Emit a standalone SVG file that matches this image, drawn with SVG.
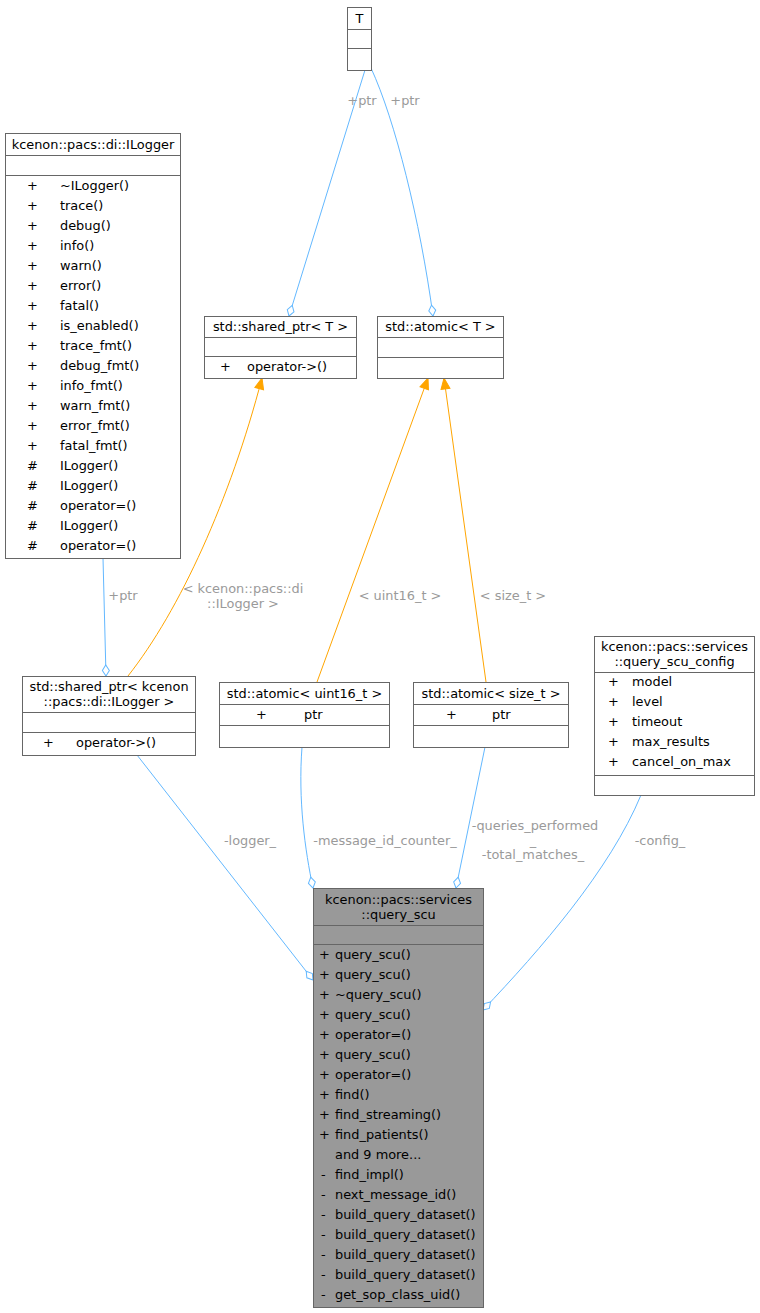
<svg xmlns="http://www.w3.org/2000/svg" width="760" height="1313" viewBox="0 0 760 1313">
<style>
text{font-family:"DejaVu Sans",sans-serif;font-size:12.9px;fill:#000}
.lbl{fill:#9a9a9a;text-anchor:middle}
.c{text-anchor:middle}
.box{fill:#fff;stroke:#666;stroke-width:1}
.gbox{fill:#999;stroke:#666;stroke-width:1}
.sep{stroke:#666;stroke-width:1}
.b{fill:none;stroke:#63b8ff;stroke-width:1}
.o{fill:none;stroke:#ffa500;stroke-width:1}
</style>
<defs>
<marker id="dia" markerUnits="userSpaceOnUse" markerWidth="14" markerHeight="10" viewBox="-12 -5 14 10" refX="0" refY="0" orient="auto"><path d="M0,0 L-5.5,-3.5 L-11,0 L-5.5,3.5 Z" fill="#fff" stroke="#63b8ff"/></marker>
<marker id="arr" markerUnits="userSpaceOnUse" markerWidth="14" markerHeight="12" viewBox="-12 -6 14 12" refX="0" refY="0" orient="auto"><path d="M0,0 L-11,-4.5 L-11,4.5 Z" fill="#ffa500" stroke="#ffa500"/></marker>
</defs>
<g id="edges">
<path class="b" d="M365,70 L289,316" marker-end="url(#dia)"/>
<text class="lbl" x="362" y="105">+ptr</text>
<path class="b" d="M371,68 C395,120 420,220 433,316" marker-end="url(#dia)"/>
<text class="lbl" x="405" y="105">+ptr</text>
<path class="o" d="M128,676 C180,610 230,500 262,378" marker-end="url(#arr)"/>
<text class="lbl" x="243" y="593">&lt; kcenon::pacs::di</text>
<text class="lbl" x="243" y="608">::ILogger &gt;</text>
<path class="b" d="M103,558 L106,676" marker-end="url(#dia)"/>
<text class="lbl" x="123" y="600">+ptr</text>
<path class="o" d="M317,682 L428,378" marker-end="url(#arr)"/>
<text class="lbl" x="400" y="600">&lt; uint16_t &gt;</text>
<path class="o" d="M486,682 L444,378" marker-end="url(#arr)"/>
<text class="lbl" x="513" y="600">&lt; size_t &gt;</text>
<path class="b" d="M137,755 L313,980" marker-end="url(#dia)"/>
<text class="lbl" x="250" y="845">-logger_</text>
<path class="b" d="M302,747 C298,800 305,850 313,888" marker-end="url(#dia)"/>
<text class="lbl" x="385" y="845">-message_id_counter_</text>
<path class="b" d="M485,747 L456,888" marker-end="url(#dia)"/>
<text class="lbl" x="535" y="830">-queries_performed</text>
<text class="lbl" x="533" y="845">_</text>
<text class="lbl" x="533" y="859">-total_matches_</text>
<path class="b" d="M641,795 C610,870 540,950 483,1010" marker-end="url(#dia)"/>
<text class="lbl" x="660" y="845">-config_</text>
</g>
<g id="T">
<rect class="box" x="347.5" y="7.5" width="24" height="63"/>
<line class="sep" x1="347.5" y1="29.5" x2="371.5" y2="29.5"/>
<line class="sep" x1="347.5" y1="48.5" x2="371.5" y2="48.5"/>
<text class="c" x="359.5" y="23">T</text>
</g>
<g id="ILogger">
<rect class="box" x="5.5" y="133.5" width="175" height="425"/>
<line class="sep" x1="5.5" y1="155.5" x2="180.5" y2="155.5"/>
<line class="sep" x1="5.5" y1="175.5" x2="180.5" y2="175.5"/>
<text class="c" x="93" y="149">kcenon::pacs::di::ILogger</text>
<g>
<text x="27" y="190">+</text><text x="60" y="190">~ILogger()</text>
<text x="27" y="210">+</text><text x="60" y="210">trace()</text>
<text x="27" y="230">+</text><text x="60" y="230">debug()</text>
<text x="27" y="250">+</text><text x="60" y="250">info()</text>
<text x="27" y="270">+</text><text x="60" y="270">warn()</text>
<text x="27" y="290">+</text><text x="60" y="290">error()</text>
<text x="27" y="310">+</text><text x="60" y="310">fatal()</text>
<text x="27" y="330">+</text><text x="60" y="330">is_enabled()</text>
<text x="27" y="350">+</text><text x="60" y="350">trace_fmt()</text>
<text x="27" y="370">+</text><text x="60" y="370">debug_fmt()</text>
<text x="27" y="390">+</text><text x="60" y="390">info_fmt()</text>
<text x="27" y="410">+</text><text x="60" y="410">warn_fmt()</text>
<text x="27" y="430">+</text><text x="60" y="430">error_fmt()</text>
<text x="27" y="450">+</text><text x="60" y="450">fatal_fmt()</text>
<text x="27" y="470">#</text><text x="60" y="470">ILogger()</text>
<text x="27" y="490">#</text><text x="60" y="490">ILogger()</text>
<text x="27" y="510">#</text><text x="60" y="510">operator=()</text>
<text x="27" y="530">#</text><text x="60" y="530">ILogger()</text>
<text x="27" y="550">#</text><text x="60" y="550">operator=()</text>
</g>
</g>
<g id="shared_ptr_T">
<rect class="box" x="204.5" y="316.5" width="152" height="62"/>
<line class="sep" x1="204.5" y1="337.5" x2="356.5" y2="337.5"/>
<line class="sep" x1="204.5" y1="356.5" x2="356.5" y2="356.5"/>
<text class="c" x="280.5" y="331">std::shared_ptr&lt; T &gt;</text>
<text x="220" y="371">+</text><text x="247" y="371">operator-&gt;()</text>
</g>
<g id="atomic_T">
<rect class="box" x="377.5" y="316.5" width="126" height="62"/>
<line class="sep" x1="377.5" y1="337.5" x2="503.5" y2="337.5"/>
<line class="sep" x1="377.5" y1="357.5" x2="503.5" y2="357.5"/>
<text class="c" x="440.5" y="331">std::atomic&lt; T &gt;</text>
</g>
<g id="shared_ptr_ILogger">
<rect class="box" x="22.5" y="676.5" width="173" height="79"/>
<line class="sep" x1="22.5" y1="712.5" x2="195.5" y2="712.5"/>
<line class="sep" x1="22.5" y1="732.5" x2="195.5" y2="732.5"/>
<text class="c" x="109" y="691">std::shared_ptr&lt; kcenon</text>
<text class="c" x="109" y="706">::pacs::di::ILogger &gt;</text>
<text x="43" y="747">+</text><text x="76" y="747">operator-&gt;()</text>
</g>
<g id="atomic_uint16">
<rect class="box" x="219.5" y="682.5" width="170" height="65"/>
<line class="sep" x1="219.5" y1="704.5" x2="389.5" y2="704.5"/>
<line class="sep" x1="219.5" y1="725.5" x2="389.5" y2="725.5"/>
<text class="c" x="304.5" y="698">std::atomic&lt; uint16_t &gt;</text>
<text x="256" y="719">+</text><text x="304" y="719">ptr</text>
</g>
<g id="atomic_size_t">
<rect class="box" x="413.5" y="682.5" width="155" height="65"/>
<line class="sep" x1="413.5" y1="704.5" x2="568.5" y2="704.5"/>
<line class="sep" x1="413.5" y1="725.5" x2="568.5" y2="725.5"/>
<text class="c" x="491" y="698">std::atomic&lt; size_t &gt;</text>
<text x="446" y="719">+</text><text x="492" y="719">ptr</text>
</g>
<g id="query_scu_config">
<rect class="box" x="594.5" y="636.5" width="160" height="159"/>
<line class="sep" x1="594.5" y1="672.5" x2="754.5" y2="672.5"/>
<line class="sep" x1="594.5" y1="775.5" x2="754.5" y2="775.5"/>
<text class="c" x="674.5" y="651">kcenon::pacs::services</text>
<text class="c" x="674.5" y="666">::query_scu_config</text>
<text x="608" y="686">+</text><text x="632" y="686">model</text>
<text x="608" y="706">+</text><text x="632" y="706">level</text>
<text x="608" y="726">+</text><text x="632" y="726">timeout</text>
<text x="608" y="746">+</text><text x="632" y="746">max_results</text>
<text x="608" y="766">+</text><text x="632" y="766">cancel_on_max</text>
</g>
<g id="query_scu">
<rect class="gbox" x="313.5" y="888.5" width="170" height="419"/>
<line class="sep" x1="313.5" y1="925.5" x2="483.5" y2="925.5"/>
<line class="sep" x1="313.5" y1="944.5" x2="483.5" y2="944.5"/>
<text class="c" x="398.5" y="904">kcenon::pacs::services</text>
<text class="c" x="398.5" y="919">::query_scu</text>
<text x="319" y="959">+</text><text x="335" y="959">query_scu()</text>
<text x="319" y="979">+</text><text x="335" y="979">query_scu()</text>
<text x="319" y="999">+</text><text x="335" y="999">~query_scu()</text>
<text x="319" y="1019">+</text><text x="335" y="1019">query_scu()</text>
<text x="319" y="1039">+</text><text x="335" y="1039">operator=()</text>
<text x="319" y="1059">+</text><text x="335" y="1059">query_scu()</text>
<text x="319" y="1079">+</text><text x="335" y="1079">operator=()</text>
<text x="319" y="1099">+</text><text x="335" y="1099">find()</text>
<text x="319" y="1119">+</text><text x="335" y="1119">find_streaming()</text>
<text x="319" y="1139">+</text><text x="335" y="1139">find_patients()</text>
<text x="335" y="1159">and 9 more...</text>
<text x="321" y="1179">-</text><text x="335" y="1179">find_impl()</text>
<text x="321" y="1199">-</text><text x="335" y="1199">next_message_id()</text>
<text x="321" y="1219">-</text><text x="335" y="1219">build_query_dataset()</text>
<text x="321" y="1239">-</text><text x="335" y="1239">build_query_dataset()</text>
<text x="321" y="1259">-</text><text x="335" y="1259">build_query_dataset()</text>
<text x="321" y="1279">-</text><text x="335" y="1279">build_query_dataset()</text>
<text x="321" y="1299">-</text><text x="335" y="1299">get_sop_class_uid()</text>
</g>
</svg>
